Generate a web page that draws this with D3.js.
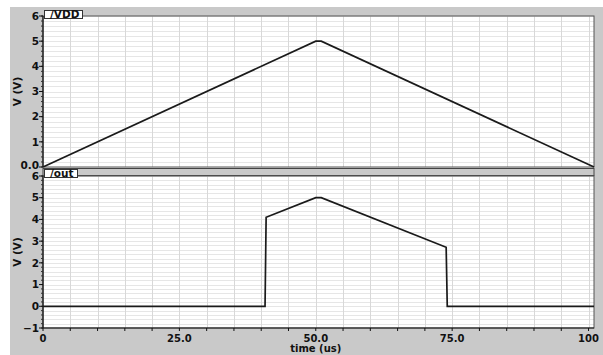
<!DOCTYPE html>
<html><head><meta charset="utf-8">
<script src="https://cdn.jsdelivr.net/npm/d3@7"></script>
<style>body{margin:0;background:#fff}svg{display:block}text{font-family:"DejaVu Sans",sans-serif;font-weight:bold}</style>
</head><body><svg id="c" width="603" height="355"></svg>
<script>
const timeVDD = [0, 50, 51, 101];
const valVDD = [0, 5, 5, 0];
const timeOut = [0, 40.7, 40.9, 50, 51, 73.9, 74.1, 101];
const valOut = [0, 0, 4.1, 5, 5, 2.72, 0, 0];
const xTicks = [0, 25, 50, 75, 100];
const xTickLabels = ["0", "25.0", "50.0", "75.0", "100"];
const topYTicks = [0, 1, 2, 3, 4, 5, 6];
const topYLabels = ["0.0", "1", "2", "3", "4", "5", "6"];
const botYTicks = [-1, 0, 1, 2, 3, 4, 5, 6];
const botYLabels = ["\u22121", "0", "1", "2", "3", "4", "5", "6"];
const panelNames = ["/VDD", "/out"];

const svg = d3.select("#c");
svg.append("rect").attr("x", 10).attr("y", 7).attr("width", 593).attr("height", 348).attr("fill", "#c9c9c9");

const x = d3.scaleLinear().domain([0, 101]).range([43, 594]);
const panels = [
  {y: d3.scaleLinear().domain([0, 6]).range([167, 16]), ticks: topYTicks, labels: topYLabels, t: timeVDD, v: valVDD, name: panelNames[0]},
  {y: d3.scaleLinear().domain([-1, 6]).range([328, 176]), ticks: botYTicks, labels: botYLabels, t: timeOut, v: valOut, name: panelNames[1]}
];

svg.append("rect").attr("x", 43).attr("y", 168.5).attr("width", 551).attr("height", 7).attr("fill", "#c9c9c9").attr("stroke", "#444");

panels.forEach((p, pi) => {
  const [d0, d1] = p.y.domain();
  const y0 = p.y(d0), y1 = p.y(d1);
  const g = svg.append("g");
  g.append("rect").attr("x", x(0)).attr("y", y1).attr("width", x(101) - x(0)).attr("height", y0 - y1).attr("fill", "#fff");
  const hs = d3.range(Math.round(d0 * 5), Math.round(d1 * 5) + 1).map(k => k / 5);
  g.selectAll(".hg").data(hs).join("line")
    .attr("x1", x(0)).attr("x2", x(101)).attr("y1", d => Math.round(p.y(d)) + 0.5).attr("y2", d => Math.round(p.y(d)) + 0.5)
    .attr("stroke", "#e6e6e6").attr("stroke-width", 1);
  const vs = d3.range(5, 101, 5);
  g.selectAll(".vg").data(vs).join("line")
    .attr("y1", y0).attr("y2", y1).attr("x1", d => Math.round(x(d)) + 0.5).attr("x2", d => Math.round(x(d)) + 0.5)
    .attr("stroke", "#d8d8d8").attr("stroke-width", 1);
  g.append("rect").attr("x", x(0)).attr("y", y1).attr("width", x(101) - x(0)).attr("height", y0 - y1)
    .attr("fill", "none").attr("stroke", "#555").attr("stroke-width", 1);
  g.append("line").attr("x1", x(0)).attr("x2", x(0)).attr("y1", y0).attr("y2", y1).attr("stroke", "#111").attr("stroke-width", 1.2);
  g.selectAll(".ymin").data(hs).join("line")
    .attr("x1", x(0) - 2).attr("x2", x(0)).attr("y1", d => p.y(d)).attr("y2", d => p.y(d)).attr("stroke", "#333");
  g.selectAll(".ymaj").data(p.ticks).join("line")
    .attr("x1", x(0) - 4).attr("x2", x(0)).attr("y1", d => p.y(d)).attr("y2", d => p.y(d)).attr("stroke", "#111");
  g.selectAll(".yl").data(p.ticks).join("text")
    .attr("x", x(0) - 4).attr("y", (d, i) => p.y(d) - (pi === 0 && i === 0 ? 1.5 : 0)).attr("dy", "0.35em").attr("text-anchor", "end")
    .attr("font-size", 10.5).attr("fill", "#111").text((d, i) => p.labels[i]);
  g.append("text").attr("transform", `translate(21,${(y0 + y1) / 2}) rotate(-90)`).attr("text-anchor", "middle")
    .attr("font-size", 10.5).attr("fill", "#111").text("V (V)");
  const pts = p.t.map((t, i) => [t, p.v[i]]);
  g.append("path").datum(pts).attr("d", d3.line().x(d => x(d[0])).y(d => p.y(d[1])))
    .attr("fill", "none").attr("stroke", "#1a1a1a").attr("stroke-width", 1.7);
  const lbl = g.append("g");
  const ly = pi === 0 ? 10 : 169;
  const tw = pi === 0 ? 38 : 33;
  lbl.append("rect").attr("x", 44.5).attr("y", ly + 0.5).attr("width", tw).attr("height", 8).attr("fill", "#fff").attr("stroke", "#333");
  lbl.append("text").attr("x", 50).attr("y", ly + 8).attr("font-size", 10.5).attr("fill", "#111").text(p.name);
});

const yb = panels[1].y(-1);
svg.append("line").attr("x1", x(0)).attr("x2", x(101)).attr("y1", yb).attr("y2", yb).attr("stroke", "#111").attr("stroke-width", 1.2);
svg.selectAll(".xt").data(d3.range(0, 101, 5)).join("line")
  .attr("x1", d => x(d)).attr("x2", d => x(d)).attr("y1", yb).attr("y2", yb + 3).attr("stroke", "#111");
svg.selectAll(".xl").data(xTicks).join("text")
  .attr("x", d => x(d)).attr("y", 342).attr("text-anchor", "middle").attr("font-size", 10).attr("fill", "#111")
  .text((d, i) => xTickLabels[i]);
svg.append("text").attr("x", x(50)).attr("y", 352).attr("text-anchor", "middle").attr("font-size", 10).attr("fill", "#111").text("time (us)");
</script></body></html>
